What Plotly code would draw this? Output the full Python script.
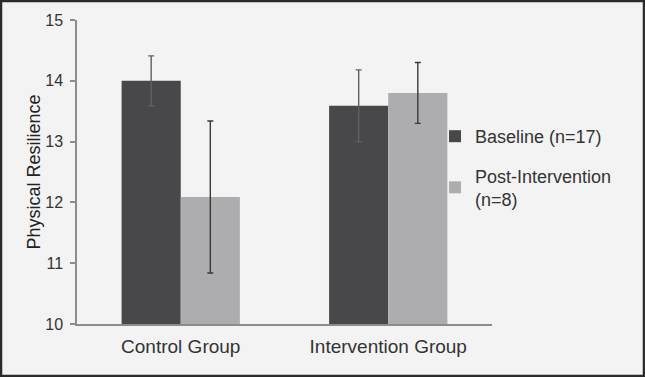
import plotly.graph_objects as go

categories = ["Control Group", "Intervention Group"]
baseline_vals = [14.0, 13.59]
baseline_err = [0.41, 0.59]
post_vals = [12.09, 13.8]
post_err = [1.25, 0.5]
series_names = ["Baseline (n=17)", "Post-Intervention<br>(n=8)"]
y_ticks = [10, 11, 12, 13, 14, 15]

W, H = 645, 377
L, R, T, B = 77, 153, 20, 53
pw = W - L - R
ph = H - T - B

fig = go.Figure()
fig.add_trace(go.Bar(
    x=categories, y=baseline_vals, name=series_names[0],
    marker=dict(color="#48484a", line=dict(width=0)),
    error_y=dict(type="data", array=baseline_err, visible=True,
                 color="#606060", thickness=1.4, width=3),
    legendgroup="a",
))
fig.add_trace(go.Bar(
    x=categories, y=post_vals, name=series_names[1],
    marker=dict(color="#adadb0", line=dict(width=0)),
    error_y=dict(type="data", array=post_err, visible=True,
                 color="#3a3a3a", thickness=1.4, width=3),
    legendgroup="b",
))

font_family = "Liberation Sans, Arial, sans-serif"
fig.update_layout(
    width=W, height=H,
    margin=dict(l=L, r=R, t=T, b=B, pad=0),
    paper_bgcolor="#f3f3f3",
    plot_bgcolor="#f3f3f3",
    barmode="group",
    bargap=0.43,
    bargroupgap=0,
    font=dict(family=font_family, color="#333333", size=16),
    showlegend=True,
    legend=dict(
        x=(435 - L) / pw, xanchor="left",
        y=(H - B - 118) / ph, yanchor="top",
        bgcolor="rgba(0,0,0,0)",
        font=dict(size=18, color="#333333"),
        itemwidth=30,
        traceorder="grouped",
        tracegroupgap=13,
    ),
    xaxis=dict(
        showline=True, linecolor="#8c8c8c", linewidth=1.5,
        ticks="", showgrid=False,
        tickfont=dict(size=19, color="#333333"),
        ticklabelstandoff=4,
    ),
    yaxis=dict(
        range=[10, 15],
        tickvals=y_ticks,
        showline=True, linecolor="#8c8c8c", linewidth=1.5,
        ticks="outside", ticklen=5, tickcolor="#8c8c8c", tickwidth=1.5,
        showgrid=False, zeroline=False,
        tickfont=dict(size=16, color="#333333"),
        ticklabelstandoff=4,
        title=dict(text="Physical Resilience", font=dict(size=18, color="#222222"), standoff=0),
    ),
    shapes=[dict(
        type="rect", xref="paper", yref="paper",
        x0=-L / pw + 1 / pw, x1=(W - L) / pw - 1 / pw,
        y0=-B / ph + 1 / ph, y1=(H - B) / ph - 1 / ph,
        line=dict(color="#2a2a2a", width=2.5), fillcolor="rgba(0,0,0,0)",
        layer="above",
    )],
)

fig.write_html(
    "out.html",
    config={"displayModeBar": False},
    post_script="document.body.style.margin='0';document.body.style.padding='0';",
)
